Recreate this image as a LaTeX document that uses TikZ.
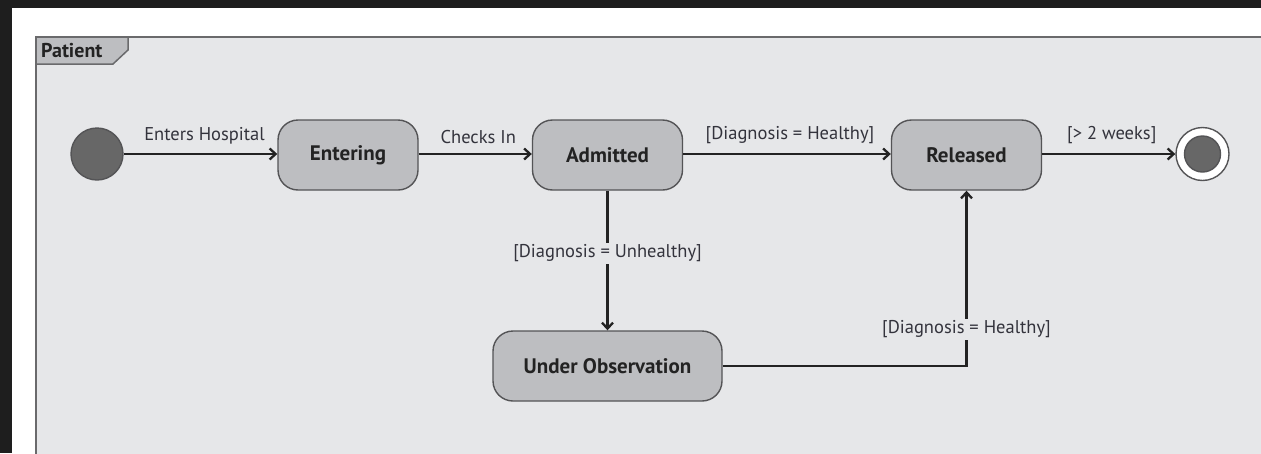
\documentclass[tikz,border=0pt]{standalone}
\usepackage{fontspec}
\setmainfont{PT Sans}
\usetikzlibrary{arrows.meta}
\definecolor{darkbg}{HTML}{1E1E1E}
\definecolor{framebg}{HTML}{E6E7E9}
\definecolor{framedraw}{HTML}{6A6A6C}
\definecolor{statefill}{HTML}{BDBEC1}
\definecolor{statedraw}{HTML}{545456}
\definecolor{edgecol}{HTML}{232323}
\definecolor{lblcol}{HTML}{33333C}
\definecolor{dotfill}{HTML}{676767}
\tikzset{
  statebox/.style={draw=statedraw, line width=1.4pt, fill=statefill, rounded corners=20pt,
    minimum height=70pt, inner sep=0pt, font=\fontsize{21}{24}\selectfont\bfseries, text=edgecol},
  edge/.style={draw=edgecol, line width=2.3pt, -{Straight Barb[length=6pt,width=11pt,line width=2.3pt]}},
  lbl/.style={font=\fontsize{18.5}{21}\selectfont, text=lblcol, inner sep=2pt},
  dot/.style={circle, fill=dotfill, draw=statedraw, line width=1.4pt, inner sep=0pt}
}
\begin{document}
\begin{tikzpicture}[x=1pt,y=-1pt]
\useasboundingbox (0,0) rectangle (1261,453);
\clip (0,0) rectangle (1261,453);
\fill[darkbg] (0,0) rectangle (1261,453);
\fill[white] (12,8) rectangle (1270,460);
\filldraw[fill=framebg, draw=framedraw, line width=1.5pt] (1270,37) -- (36,37) -- (36,460) -- (1270,460) -- cycle;
\filldraw[fill=statefill, draw=framedraw, line width=1.5pt] (36,37) -- (128,37) -- (128,50) -- (113,64) -- (36,64) -- cycle;
\node[anchor=west, font=\fontsize{20}{22}\selectfont\bfseries, text=edgecol, inner sep=0pt] (tab) at (41,51) {Patient};

\node[dot, minimum size=52pt] (init) at (97,154) {};
\node[statebox, minimum width=140pt] (entering) at (348,155) {Entering};
\node[statebox, minimum width=150pt] (admitted) at (607.5,155) {Admitted};
\node[statebox, minimum width=150pt] (released) at (966.5,155) {Released};
\node[statebox, minimum width=229pt] (underobs) at (607.5,366) {Under Observation};
\node[circle, fill=white, draw=statedraw, line width=1.4pt, minimum size=53pt, inner sep=0pt] (final) at (1202.5,154) {};
\node[dot, minimum size=36pt] (finalin) at (final.center) {};

\draw[edge] (init.east) -- node[lbl, above=7pt, xshift=4pt] {Enters Hospital} (entering.west |- init.east);
\draw[edge] (entering.east |- init.east) -- node[lbl, above=7pt, xshift=3pt] {Checks In} (admitted.west |- init.east);
\draw[edge] (admitted.east |- init.east) -- node[lbl, above=7pt, xshift=3pt] {[Diagnosis = Healthy]} (released.west |- init.east);
\draw[edge] (released.east |- init.east) -- node[lbl, above=7pt, xshift=3pt] {[> 2 weeks]} (final.west);
\draw[edge] (admitted.south) -- node[lbl, pos=0.45, fill=framebg] {[Diagnosis = Unhealthy]} (underobs.north);
\draw[edge] (underobs.east) -| node[lbl, pos=0.605, fill=framebg] {[Diagnosis = Healthy]} (released.south);
\end{tikzpicture}
\end{document}
